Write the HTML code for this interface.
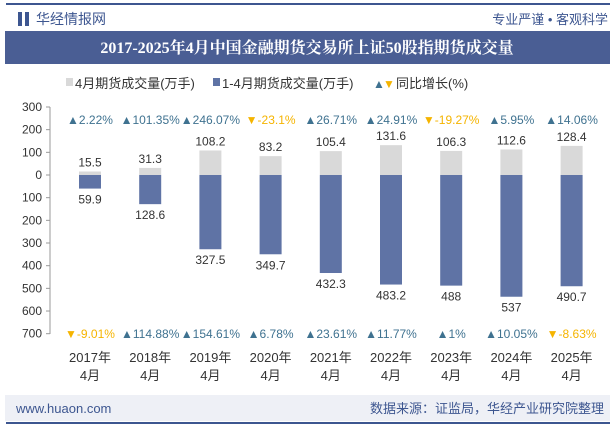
<!DOCTYPE html>
<html><head><meta charset="utf-8"><style>
body{margin:0;width:615px;height:427px;background:#fff;font-family:"Liberation Sans","Noto Sans CJK SC",sans-serif;overflow:hidden}
</style></head><body>
<svg width="615" height="427" xmlns="http://www.w3.org/2000/svg" font-family="Liberation Sans, Noto Sans CJK SC, sans-serif">
<rect x="6" y="3" width="604" height="2" fill="#3d5690"/>
<rect x="18" y="12" width="4" height="14" fill="#3d5690"/><rect x="25" y="12" width="4" height="14" fill="#3d5690"/>
<text x="36" y="24" font-size="14" fill="#3d5690">华经情报网</text>
<text x="608" y="24" font-size="13" fill="#3d5690" text-anchor="end">专业严谨 • 客观科学</text>
<rect x="5" y="31" width="605" height="33" fill="#4a5e94"/>
<text x="307" y="53" font-size="16" font-weight="bold" fill="#fff" text-anchor="middle" font-family="Liberation Serif, Noto Serif CJK SC, serif">2017-2025年4月中国金融期货交易所上证50股指期货成交量</text>
<g font-size="13" fill="#333">
<rect x="66" y="78" width="7" height="8" fill="#d9d9d9"/><text x="75" y="88">4月期货成交量(万手)</text>
<rect x="213" y="78" width="7" height="8" fill="#5f73a5"/><text x="222" y="88">1-4月期货成交量(万手)</text>
<text x="373" y="88" fill="#3f7290" font-size="12">▲</text><text x="383" y="88" fill="#f5b400" font-size="12">▼</text><text x="396" y="88">同比增长(%)</text>
</g>
<line x1="50" y1="107" x2="50" y2="334" stroke="#999"/>
<g id="yaxis" font-size="12" fill="#333" text-anchor="end"></g>
<g id="bars"></g>
<g>
<rect x="5" y="395" width="605" height="26" fill="#eef0f6"/>
<text x="16" y="413" font-size="13" fill="#3d5690">www.huaon.com</text>
<text x="604" y="413" font-size="13" fill="#3d5690" text-anchor="end">数据来源：证监局，华经产业研究院整理</text>
<rect x="6" y="422" width="604" height="2" fill="#3d5690"/>
</g>
</svg>
<script>
const categories=["2017年","2018年","2019年","2020年","2021年","2022年","2023年","2024年","2025年"];
const aprilVolume=[15.5,31.3,108.2,83.2,105.4,131.6,106.3,112.6,128.4];
const ytdVolume=[59.9,128.6,327.5,349.7,432.3,483.2,488,537,490.7];
const aprilGrowth=[2.22,101.35,246.07,-23.1,26.71,24.91,-19.27,5.95,14.06];
const ytdGrowth=[-9.01,114.88,154.61,6.78,23.61,11.77,1,10.05,-8.63];
const yTicks=[300,200,100,0,100,200,300,400,500,600,700];
const NS="http://www.w3.org/2000/svg";
const y=v=>175-v*0.2267;
const x=i=>90+i*60.2;
function mk(t,a,p){const e=document.createElementNS(NS,t);for(const k in a)e.setAttribute(k,a[k]);(p||document.getElementById('bars')).appendChild(e);return e;}
const ya=document.getElementById('yaxis');
yTicks.forEach((t,i)=>{const v=i<3?t:-t;const e=mk('text',{x:42,y:y(v)+4},ya);e.textContent=t;


mk('line',{x1:46,x2:50,y1:y(v),y2:y(v),stroke:'#999'},ya);});
categories.forEach((c,i)=>{
 const cx=x(i);
 const g=mk('rect',{x:cx-11,y:y(aprilVolume[i]),width:22,height:aprilVolume[i]*0.2267,fill:'#d9d9d9'});
 
 
 const b=mk('rect',{x:cx-11,y:175,width:22,height:ytdVolume[i]*0.2267,fill:'#5f73a5'});
 
 
 let t=mk('text',{x:cx,y:y(aprilVolume[i])-5,'font-size':12,fill:'#333','text-anchor':'middle'});t.textContent=aprilVolume[i];
 
 
 t=mk('text',{x:cx,y:y(-ytdVolume[i])+15,'font-size':12,fill:'#333','text-anchor':'middle'});t.textContent=ytdVolume[i];
 
 
 [[aprilGrowth[i],124],[ytdGrowth[i],338]].forEach(([gv,yy])=>{
  const up=gv>=0;const e=mk('text',{x:cx,y:yy,'font-size':12,fill:up?'#3f7290':'#f5b400','text-anchor':'middle'});
  e.textContent=(up?'▲':'▼')+gv+'%';
  
  
 });
 t=mk('text',{x:cx,y:362,'font-size':13,fill:'#333','text-anchor':'middle'});t.textContent=c;
 
 
 t=mk('text',{x:cx,y:380,'font-size':13,fill:'#333','text-anchor':'middle'});t.textContent='4月';
 
 
});
</script>
</body></html>
